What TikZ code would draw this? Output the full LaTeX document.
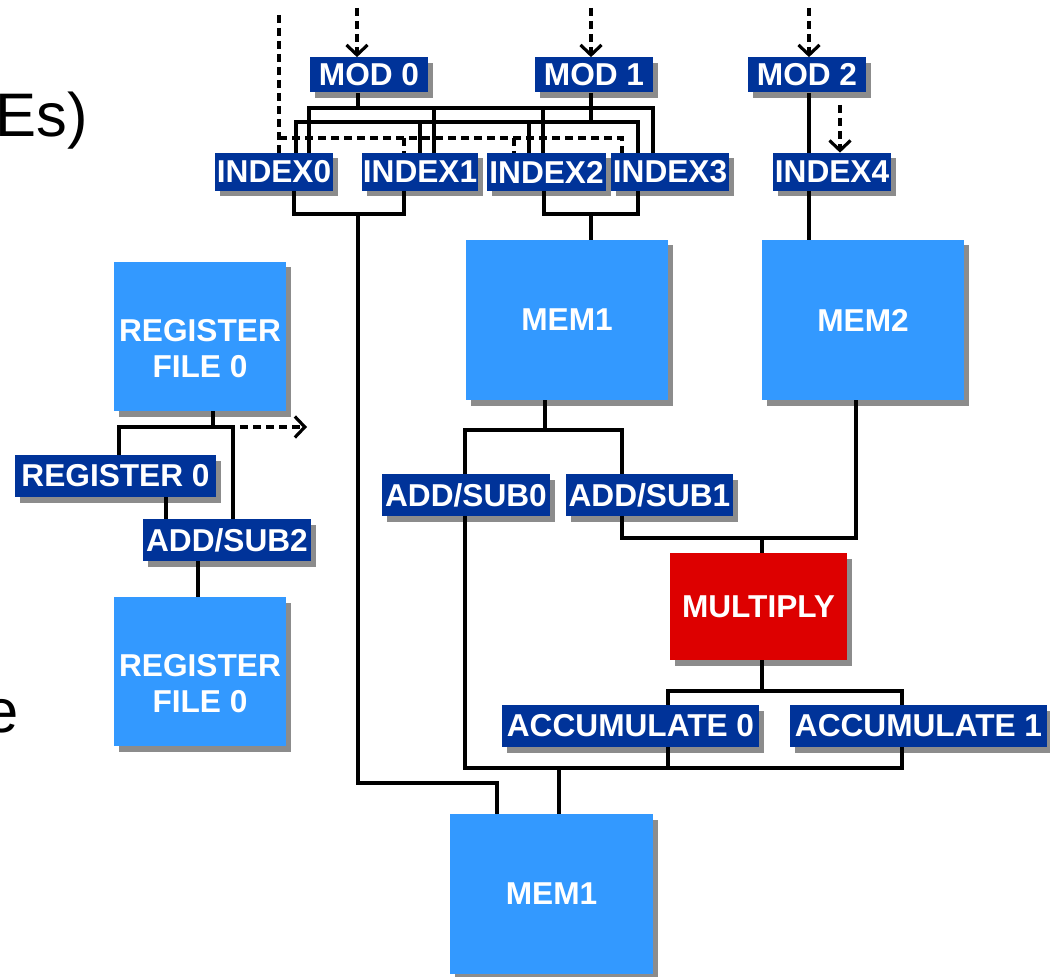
\documentclass[tikz,border=0pt]{standalone}
\usepackage{fontspec}
\setmainfont{Liberation Sans}
\usepackage{tikz}
\usetikzlibrary{arrows.meta, shadows}
\definecolor{labelblue}{RGB}{0,51,153}
\definecolor{boxblue}{RGB}{51,153,255}
\definecolor{mulred}{RGB}{221,0,0}

\begin{document}
\begin{tikzpicture}[x=0.2mm, y=-0.2mm,
		wire/.style={line width=1.8pt, line join=miter},
		shd/.style={drop shadow={shadow xshift=1mm, shadow yshift=-1.1mm, fill=black!45, opacity=1}},
		lbl/.style={shd, fill=labelblue, text=white, inner sep=0pt, minimum height=8.4mm,
			font=\fontsize{18}{20}\selectfont\bfseries},
		blk/.style={shd, fill=boxblue, text=white, inner sep=0pt, align=center,
			font=\fontsize{18}{20.5}\selectfont\bfseries},
		dsh/.style={wire, dash pattern=on 1.6mm off 1mm},
		arr/.style={-{Straight Barb[length=2mm, width=4.2mm, line width=1.8pt]}}]
		\useasboundingbox (0,0) rectangle (1050,977);
		% cut-off slide text
		\node[anchor=base west, inner sep=0pt, font=\fontsize{35}{40}\selectfont] (txta) at (-5,137) {Es)};
		\node[anchor=base east, inner sep=0pt, font=\fontsize{35}{40}\selectfont] (txtb) at (19,732) {e};
		% modules
		\node[lbl, minimum width=23.6mm, minimum height=7mm] (mod0) at (369,75) {MOD 0};
		\node[lbl, minimum width=23.6mm, minimum height=7mm] (mod1) at (594,75) {MOD 1};
		\node[lbl, minimum width=23.6mm, minimum height=7mm] (mod2) at (807,75) {MOD 2};
		\foreach \n/\x/\w in {0/274/23.6, 1/420/23.2, 2/546.5/23.8, 3/670/23.6, 4/832/23.6}{
			\node[lbl, minimum width=\w mm, minimum height=7.6mm] (idx\n) at (\x,172) {INDEX\n};
		}
		% memories
		\node[blk, minimum width=40.4mm, minimum height=32mm] (mem1) at (567,320) {MEM1};
		\node[blk, minimum width=40.4mm, minimum height=32mm] (mem2) at (863,320) {MEM2};
		\node[blk, minimum width=40.6mm, minimum height=32mm] (mem1b) at (551.5,894) {MEM1};
		% register side
		\node[blk, minimum width=34.4mm, minimum height=29.8mm] (rf0) at (200,336.5) {\rule{0pt}{9.2mm}REGISTER\\FILE 0};
		\node[lbl, minimum width=40.2mm] (reg0) at (115.5,476) {REGISTER 0};
		\node[lbl, minimum width=33.6mm] (asub2) at (227,540) {ADD/SUB2};
		\node[blk, minimum width=34.4mm, minimum height=29.8mm] (rf1) at (200,671.5) {\rule{0pt}{9.2mm}REGISTER\\FILE 0};
		% datapath
		\node[lbl, minimum width=33.6mm] (asub0) at (466,495) {ADD/SUB0};
		\node[lbl, minimum width=33.4mm] (asub1) at (649.5,495) {ADD/SUB1};
		\node[blk, fill=mulred, minimum width=35.4mm, minimum height=21.4mm] (mul) at (758.5,606.5) {MULTIPLY};
		\node[lbl, minimum width=51.4mm] (acc0) at (630.5,726) {ACCUMULATE 0};
		\node[lbl, minimum width=51.4mm] (acc1) at (918.5,726) {ACCUMULATE 1};
		%
		% dashed inputs
		\draw[dsh, arr] (357,8) -- (mod0.north -| 357,0);
		\draw[dsh, arr] (591,8) -- (mod1.north -| 591,0);
		\draw[dsh, arr] (809,8) -- (mod2.north -| 809,0);
		\draw[dsh, arr] (840,105) -- (idx4.north -| 840,0);
		\draw[dsh] (279,15) -- (idx0.north -| 279,0);
		\draw[dsh] (279,138) -- (622,138) -- (idx3.north -| 622,0);
		\draw[dsh] (404,138) -- (idx1.north -| 404,0);
		\draw[dsh] (514,138) -- (idx2.north -| 514,0);
		% MOD 0 bus
		\draw[wire] (mod0.south -| 358,0) -- (358,108);
		\draw[wire] (idx0.north -| 309,0) |- (653,108) -- (idx3.north -| 653,0);
		\draw[wire] (idx1.north -| 434,0) -- (434,108);
		\draw[wire] (idx2.north -| 543,0) -- (543,108);
		% MOD 1 bus
		\draw[wire] (mod1.south -| 591,0) -- (591,122);
		\draw[wire] (idx0.north -| 296,0) |- (638,122) -- (idx3.north -| 638,0);
		\draw[wire] (idx1.north -| 420,0) -- (420,122);
		\draw[wire] (idx2.north -| 529,0) -- (529,122);
		% MOD 2
		\draw[wire] (mod2.south -| 809,0) -- (idx4.north -| 809,0);
		\draw[wire] (idx4.south -| 809,0) -- (mem2.north -| 809,0);
		% index outputs
		\draw[wire] (idx0.south -| 294,0) |- (404,214) -- (idx1.south -| 404,0);
		\draw[wire] (358,214) |- (497,783) -- (mem1b.north -| 497,0);
		\draw[wire] (idx2.south -| 544,0) |- (638,214) -- (idx3.south -| 638,0);
		\draw[wire] (591,214) -- (mem1.north -| 591,0);
		% add/sub and multiply
		\draw[wire] (mem1.south -| 545,0) -- (545,430);
		\draw[wire] (asub0.north -| 465,0) |- (622,430) -- (asub1.north -| 622,0);
		\draw[wire] (asub1.south -| 622,0) |- (856,538) -- (mem2.south -| 856,0);
		\draw[wire] (762,538) -- (mul.north -| 762,0);
		\draw[wire] (mul.south -| 762,0) -- (762,691);
		\draw[wire] (acc0.north -| 668,0) |- (902,691) -- (acc1.north -| 902,0);
		% accumulate back to memory
		\draw[wire] (asub0.south -| 465,0) |- (902,768) -- (acc1.south -| 902,0);
		\draw[wire] (acc0.south -| 668,0) -- (668,768);
		\draw[wire] (559,768) -- (mem1b.north -| 559,0);
		% register file
		\draw[wire] (rf0.south -| 213,0) -- (213,427);
		\draw[wire] (reg0.north -| 119,0) |- (233,427) -- (asub2.north -| 233,0);
		\coordinate (rfout) at (307,427);
		\draw[dsh, arr] (240,427) -- (rfout);
		\draw[wire] (reg0.south -| 166,0) -- (asub2.north -| 166,0);
		\draw[wire] (asub2.south -| 198,0) -- (rf1.north -| 198,0);
	\end{tikzpicture}
\end{document}
